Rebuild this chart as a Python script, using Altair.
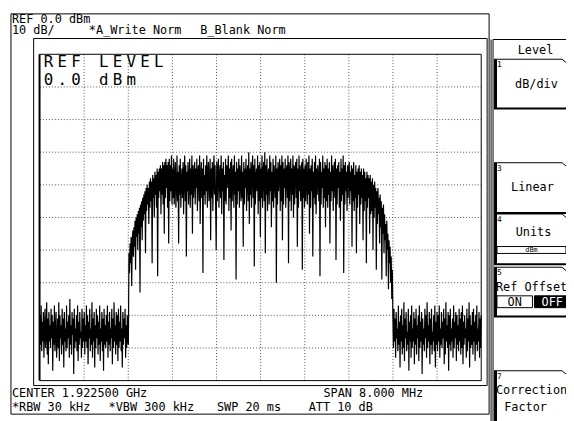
import altair as alt
import pandas as pd

CENTER_MHZ = 1922.5
SPAN_MHZ = 8.0
REF_DBM = 0.0
DB_PER_DIV = 10.0

# trace values (dBm), 20 runs of 40 samples (two runs per horizontal division)
seg00 = [-80, -89, -77, -91, -82, -88, -79, -93, -84, -78, -90, -86, -76, -92, -81, -95, -79, -88, -83, -90,
         -78, -87, -80, -97, -82, -89, -77, -91, -85, -79, -93, -88, -81, -90, -76, -94, -80, -87, -83, -92]
seg01 = [-78, -89, -81, -96, -79, -88, -84, -91, -77, -90, -82, -87, -80, -93, -75, -89, -83, -92, -79, -86,
         -81, -98, -78, -90, -84, -88, -80, -91, -77, -94, -82, -89, -79, -87, -85, -93, -78, -90, -81, -88]
seg02 = [-79, -92, -83, -88, -77, -90, -80, -95, -82, -87, -78, -91, -84, -89, -76, -93, -81, -88, -79, -96,
         -83, -90, -78, -87, -80, -92, -82, -89, -77, -94, -84, -88, -79, -91, -81, -97, -78, -89, -83, -90]
seg03 = [-80, -88, -77, -93, -82, -89, -79, -91, -84, -87, -78, -95, -81, -90, -76, -88, -83, -92, -79, -89,
         -80, -94, -78, -90, -82, -88, -77, -91, -84, -96, -79, -89, -81, -87, -78, -93, -83, -90, -80, -88]
seg04 = [-89, -61, -67, -58, -64, -56, -71, -57, -54, -62, -53, -59, -51, -66, -50, -56, -49, -60, -48, -55,
         -47, -73, -46, -53, -45, -57, -44, -51, -43, -49, -42, -61, -41, -48, -40, -46, -41, -52, -39, -47]
seg05 = [-38, -45, -39, -64, -37, -44, -38, -50, -36, -43, -37, -47, -35, -68, -36, -44, -35, -42, -34, -49,
         -35, -43, -33, -46, -34, -55, -33, -44, -32, -41, -34, -47, -33, -58, -32, -45, -34, -42, -31, -46]
seg06 = [-35, -44, -32, -46, -38, -33, -47, -41, -31, -45, -36, -58, -34, -43, -32, -47, -39, -35, -44, -33,
         -49, -37, -31, -45, -34, -62, -36, -42, -33, -46, -38, -32, -47, -35, -43, -31, -55, -34, -44, -37]
seg07 = [-33, -46, -35, -41, -32, -48, -36, -34, -45, -31, -52, -38, -33, -44, -35, -67, -32, -43, -37, -46,
         -34, -42, -31, -47, -36, -33, -45, -39, -32, -57, -35, -44, -33, -48, -37, -31, -43, -34, -46, -60]
seg08 = [-33, -45, -36, -32, -47, -38, -34, -44, -31, -49, -35, -42, -33, -63, -37, -45, -32, -46, -34, -41,
         -36, -31, -48, -35, -44, -33, -54, -32, -45, -37, -34, -47, -31, -43, -36, -69, -33, -46, -35, -42]
seg09 = [-32, -47, -34, -38, -45, -31, -44, -36, -59, -33, -46, -35, -41, -32, -48, -37, -34, -45, -30, -52,
         -35, -43, -33, -47, -36, -31, -44, -34, -65, -32, -46, -38, -35, -42, -31, -49, -34, -45, -33, -56]
seg10 = [-35, -44, -31, -47, -36, -33, -45, -30, -61, -34, -43, -32, -48, -37, -35, -46, -31, -42, -33, -53,
         -36, -45, -32, -47, -34, -39, -44, -31, -70, -35, -46, -33, -42, -37, -32, -48, -34, -45, -31, -57]
seg11 = [-33, -46, -35, -41, -32, -47, -36, -34, -44, -31, -64, -33, -45, -37, -32, -48, -35, -43, -31, -50,
         -34, -46, -36, -33, -44, -32, -59, -35, -47, -31, -42, -34, -45, -37, -33, -66, -32, -44, -35, -47]
seg12 = [-34, -45, -32, -39, -46, -33, -43, -31, -55, -35, -47, -34, -42, -32, -62, -36, -44, -33, -46, -31,
         -49, -35, -43, -34, -38, -45, -32, -68, -33, -46, -36, -41, -31, -47, -35, -44, -33, -53, -34, -45]
seg13 = [-32, -47, -35, -43, -33, -58, -36, -45, -31, -42, -34, -48, -37, -33, -44, -32, -63, -35, -46, -34,
         -41, -33, -47, -36, -51, -32, -45, -35, -43, -31, -67, -34, -46, -33, -42, -36, -48, -34, -44, -35]
seg14 = [-33, -46, -36, -42, -34, -59, -35, -45, -33, -48, -37, -44, -34, -61, -36, -47, -35, -43, -34, -52,
         -36, -46, -35, -44, -37, -57, -35, -48, -36, -45, -38, -64, -36, -47, -37, -44, -38, -55, -37, -49]
seg15 = [-39, -48, -38, -60, -40, -50, -39, -47, -41, -66, -42, -52, -41, -49, -44, -58, -43, -53, -45, -69,
         -47, -55, -46, -61, -49, -57, -52, -68, -51, -60, -55, -72, -57, -64, -59, -70, -62, -75, -66, -80]
seg16 = [-90, -78, -88, -81, -93, -79, -87, -84, -91, -77, -89, -82, -96, -80, -88, -78, -92, -83, -90, -76,
         -94, -81, -87, -79, -91, -85, -89, -78, -97, -82, -88, -80, -93, -77, -90, -84, -88, -79, -95, -81]
seg17 = [-89, -78, -92, -83, -87, -80, -94, -77, -90, -82, -88, -79, -98, -81, -89, -84, -91, -78, -87, -80,
         -93, -76, -90, -83, -88, -79, -95, -81, -89, -78, -92, -85, -88, -80, -91, -77, -96, -82, -89, -79]
seg18 = [-91, -80, -88, -77, -93, -84, -89, -79, -90, -82, -87, -78, -95, -81, -92, -76, -88, -83, -90, -79,
         -97, -80, -89, -78, -91, -84, -88, -81, -93, -77, -90, -82, -87, -79, -94, -80, -89, -83, -91, -78]
seg19 = [-88, -81, -92, -79, -90, -77, -95, -82, -89, -80, -87, -84, -93, -78, -91, -81, -88, -76, -96, -80,
         -90, -83, -89, -79, -92, -78, -88, -82, -94, -80, -89, -77, -91, -84, -88, -79, -93, -81, -90, -80]

header_texts = ["REF 0.0 dBm", "10 dB/", "*A_Write Norm", "B_Blank Norm"]
footer_texts = ["CENTER 1.922500 GHz", "SPAN 8.000 MHz", "*RBW 30 kHz", "*VBW 300 kHz", "SWP 20 ms", "ATT 10 dB"]
big_lines = ["REF LEVEL", "0.0 dBm"]
menu_title = "Level"
softkey_nums = ["1", "3", "4", "5", "7"]
softkey_labels = ["dB/div", "Linear", "Units", "Ref Offset", "Correction", "Factor"]
unit_value = "dBm"
onoff = ["ON", "OFF"]

# ---------------- tables ----------------
trace = (seg00 + seg01 + seg02 + seg03 + seg04 + seg05 + seg06 + seg07 + seg08 + seg09 +
         seg10 + seg11 + seg12 + seg13 + seg14 + seg15 + seg16 + seg17 + seg18 + seg19)
f_start = CENTER_MHZ - SPAN_MHZ / 2
f_stop = CENTER_MHZ + SPAN_MHZ / 2
step = SPAN_MHZ / (len(trace) - 1)
trace_df = pd.DataFrame({"f": [f_start + i * step for i in range(len(trace))], "dbm": trace})

y_bottom = REF_DBM - 10 * DB_PER_DIV
xgrid_df = pd.DataFrame({"f": [f_start + k * SPAN_MHZ / 10 for k in range(1, 10)]})
ygrid_df = pd.DataFrame({"dbm": [REF_DBM - k * DB_PER_DIV for k in range(1, 10)]})

O = 8  # page margin: page coordinates -> chart coordinates
PX0, PX1, PY0, PY1 = 40.5 - O, 488 - O, 52 - O, 383 - O
xs = alt.Scale(domain=[f_start, f_stop], range=[PX0, PX1])
ys = alt.Scale(domain=[y_bottom, REF_DBM], range=[PY1, PY0])

# decorative frame segments in page pixels: x1, y1, x2, y2, width
segs = [
    (11, 11, 496, 11, 1), (11, 11, 11, 417, 1), (11, 417, 496, 417, 1), (496, 11, 496, 417, 1),
    (34, 36, 494, 36, 1), (34, 36, 34, 388, 1), (34, 388, 494, 388, 1), (494, 36, 494, 388, 1),
    (40, 52, 488, 52, 1), (40, 52, 40, 383, 2), (40, 383, 488, 383, 1), (488, 52, 488, 383, 1),
    (498, 37, 498, 425, 1), (500, 37, 500, 425, 1), (500, 37, 576, 37, 1),
]
keys = [(57, 107), (162, 213), (214, 265), (268, 318), (373, 430)]
for t, b in keys:
    segs += [(501, t, 570, t, 1), (570, t, 576, t + 5, 1), (502.5, t, 502.5, b, 3), (501, b, 576, b, 2)]
seg_df = pd.DataFrame([{"x": a - O, "y": b - O, "x2": c - O, "y2": d - O, "w": w} for a, b, c, d, w in segs])

# boxes in page pixels: x1, y1, x2, y2, fill
boxes = [(504, 247, 574, 254, "white"), (504, 297, 540, 309, "white"), (542, 297, 576, 309, "black")]
box_df = pd.DataFrame([{"x": a - O, "y": b - O, "x2": c - O, "y2": d - O, "fill": f} for a, b, c, d, f in boxes])

# small monospaced screen texts: text, x, baseline y, align, color, size
small = [
    (header_texts[0], 12, 20, "left", "black", 12),
    (header_texts[1], 12, 31, "left", "black", 12),
    (header_texts[2], 90, 31, "left", "black", 12),
    (header_texts[3], 203, 31, "left", "black", 12),
    (footer_texts[0], 12, 400, "left", "black", 12),
    (footer_texts[1], 328, 400, "left", "black", 12),
    (footer_texts[2], 12, 414, "left", "black", 12),
    (footer_texts[3], 110, 414, "left", "black", 12),
    (footer_texts[4], 220, 414, "left", "black", 12),
    (footer_texts[5], 313, 414, "left", "black", 12),
    (menu_title, 543, 52, "center", "black", 12),
    (softkey_labels[0], 544, 86, "center", "black", 12),
    (softkey_labels[1], 540, 191, "center", "black", 12),
    (softkey_labels[2], 541, 236, "center", "black", 12),
    (softkey_labels[3], 503, 292, "left", "black", 12),
    (softkey_labels[4], 503, 397, "left", "black", 12),
    (softkey_labels[5], 533, 414, "center", "black", 12),
    (onoff[0], 522, 307, "center", "black", 12),
    (onoff[1], 560, 307, "center", "white", 12),
    (unit_value, 539, 253, "center", "black", 7),
]
for (t, _), n in zip(keys, softkey_nums):
    small.append((n, 504, t + 8, "left", "black", 8))
small_df = pd.DataFrame([{"t": a, "x": b - O, "y": c - O, "al": d, "c": e, "s": s} for a, b, c, d, e, s in small])

# big REF LEVEL text, one character per cell
big = []
for row, (line, base) in enumerate(zip(big_lines, [65, 83])):
    for k, ch in enumerate(line):
        if ch != " ":
            big.append({"t": ch, "x": 43 + 14 * k + 6 - O, "y": base - O})
big_df = pd.DataFrame(big)

W, H = 566, 413
px = lambda f: alt.X(f, scale=None, axis=None)
py = lambda f: alt.Y(f, scale=None, axis=None)

grid_x = alt.Chart(xgrid_df).mark_rule(color="#555", strokeDash=[1, 2], strokeWidth=1).encode(
    x=alt.X("f:Q", scale=xs, axis=None), y=alt.value(PY0), y2=alt.value(PY1))
grid_y = alt.Chart(ygrid_df).mark_rule(color="#555", strokeDash=[1, 2], strokeWidth=1).encode(
    y=alt.Y("dbm:Q", scale=ys, axis=None), x=alt.value(PX0), x2=alt.value(PX1))
line = alt.Chart(trace_df).mark_line(color="black", strokeWidth=1.2, interpolate="linear").encode(
    x=alt.X("f:Q", scale=xs, axis=None), y=alt.Y("dbm:Q", scale=ys, axis=None))

frame = alt.Chart(seg_df).mark_rule(color="black").encode(
    x=px("x:Q"), y=py("y:Q"), x2="x2:Q", y2="y2:Q",
    strokeWidth=alt.StrokeWidth("w:Q", scale=None, legend=None))
rects = alt.Chart(box_df).mark_rect(stroke="black", strokeWidth=1).encode(
    x=px("x:Q"), y=py("y:Q"), x2="x2:Q", y2="y2:Q",
    fill=alt.Fill("fill:N", scale=None, legend=None))

def small_layer(al):
    d = small_df[small_df["al"] == al]
    return alt.Chart(d).mark_text(font="DejaVu Sans Mono", align=al, baseline="alphabetic").encode(
        x=px("x:Q"), y=py("y:Q"), text="t:N",
        color=alt.Color("c:N", scale=None, legend=None),
        size=alt.Size("s:Q", scale=None, legend=None))

bigtext = alt.Chart(big_df).mark_text(font="DejaVu Sans Mono", fontSize=16, align="center",
                                      baseline="alphabetic", color="black").encode(
    x=px("x:Q"), y=py("y:Q"), text="t:N")

chart = alt.layer(grid_x, grid_y, line, frame, rects, bigtext, small_layer("left"), small_layer("center")).properties(
    width=W, height=H, padding=0, autosize=alt.AutoSizeParams(type="none"), background="white"
).configure_view(stroke=None)

chart.save("out.html", embed_options={"renderer": "svg", "actions": False})
